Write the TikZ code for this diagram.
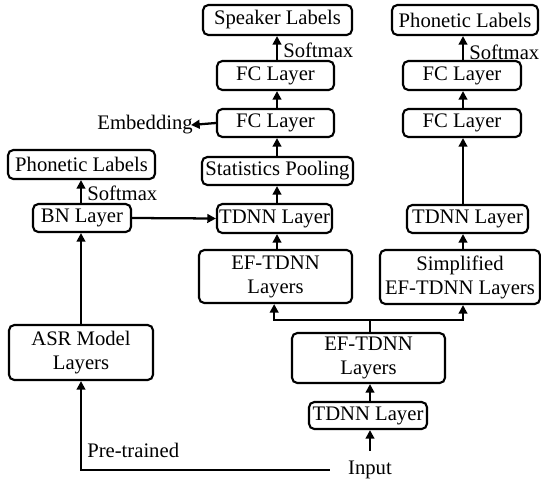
\documentclass[tikz,border=0pt]{standalone}
\usepackage{fontspec}
\setmainfont{Liberation Serif}
\usetikzlibrary{arrows.meta,calc}
\begin{document}
\begin{tikzpicture}[x=0.75pt,y=-0.75pt,
  font=\fontsize{15.5}{18}\selectfont,
  blk/.style={draw,line width=1.6pt,rounded corners=4pt,inner sep=0pt,align=center},
  arr/.style={line width=1.7pt,-{Triangle[length=6.5pt,width=6.5pt]}},
  ln/.style={line width=1.7pt},
  lbl/.style={inner sep=0pt}]
\useasboundingbox (0,0) rectangle (541,481);
\coordinate (colL) at (81,0);
\coordinate (colM) at (277,0);
\coordinate (colR) at (463,0);
\coordinate (colB) at (370,0);
% middle column
\node[blk,minimum width=111.75pt,minimum height=22.5pt] (spk) at (277.5,20) {Speaker Labels};
\node[blk,minimum width=87.75pt,minimum height=21.75pt] (fc1) at (275.5,75.5) {FC Layer};
\node[blk,minimum width=87.75pt,minimum height=21pt] (fc2) at (275.5,123) {FC Layer};
\node[blk,minimum width=113.25pt,minimum height=21pt] (stat) at (277.5,171) {Statistics Pooling};
\node[blk,minimum width=86.25pt,minimum height=21.75pt] (tdnnM) at (274.5,218.5) {TDNN Layer};
\node[blk,minimum width=114.75pt,minimum height=39.75pt] (efM) at (275.5,276.5) {EF-TDNN\\Layers};
% left column
\node[blk,minimum width=110.25pt,minimum height=21.75pt] (phL) at (81.5,164.5) {Phonetic Labels};
\node[blk,minimum width=73.5pt,minimum height=21pt] (bn) at (82,218) {BN Layer};
\node[blk,minimum width=108pt,minimum height=41.25pt] (asr) at (81,352.5) {ASR Model\\Layers};
% right column
\node[blk,minimum width=109.5pt,minimum height=22.5pt] (phR) at (465,20) {Phonetic Labels};
\node[blk,minimum width=88.5pt,minimum height=21.75pt] (fcR1) at (462,75.5) {FC Layer};
\node[blk,minimum width=88.5pt,minimum height=21pt] (fcR2) at (462,123) {FC Layer};
\node[blk,minimum width=90.75pt,minimum height=21pt] (tdnnR) at (467.5,219) {TDNN Layer};
\node[blk,minimum width=120pt,minimum height=40.5pt] (sim) at (460,277) {Simplified\\EF-TDNN Layers};
% bottom column
\node[blk,minimum width=114.75pt,minimum height=37.5pt] (efL) at (368.5,358) {EF-TDNN\\Layers};
\node[blk,minimum width=88.5pt,minimum height=20.25pt] (tdnnL) at (368,415.5) {TDNN Layer};
\node[lbl] (input) at (370,470) {Input};
% labels
\node[lbl,anchor=east] (emb) at (193,125) {Embedding};
\node[lbl,anchor=west] (smL) at (87,193) {Softmax};
\node[lbl,anchor=west] (smM) at (283,50) {Softmax};
\node[lbl,anchor=west] (smR) at (469,52) {Softmax};
\node[lbl,anchor=west] (pre) at (87,450) {Pre-trained};
\coordinate (br) at (370,320);
% middle arrows
\draw[arr] (efM.north -| colM) -- (tdnnM.south -| colM);
\draw[arr] (tdnnM.north -| colM) -- (stat.south -| colM);
\draw[arr] (stat.north -| colM) -- (fc2.south -| colM);
\draw[arr] (fc2.north -| colM) -- (fc1.south -| colM);
\draw[arr] (fc1.north -| colM) -- (spk.south -| colM);
\draw[arr] (fc2.west) -- ([xshift=-1.5pt]emb.east);
% right arrows
\draw[arr] (sim.north -| colR) -- (tdnnR.south -| colR);
\draw[arr] (tdnnR.north -| colR) -- (fcR2.south -| colR);
\draw[arr] (fcR2.north -| colR) -- (fcR1.south -| colR);
\draw[arr] (fcR1.north -| colR) -- (phR.south -| colR);
% left arrows
\draw[arr] (asr.north -| colL) -- (bn.south -| colL);
\draw[arr] (bn.north -| colL) -- (phL.south -| colL);
\draw[arr] (bn.east) -- (tdnnM.west);
% bottom
\draw[arr, shorten <=7.5pt] (input.north -| colB) -- (tdnnL.south -| colB);
\draw[arr] (tdnnL.north -| colB) -- (efL.south -| colB);
\draw[ln] (efL.north -| br) -- (br);
\draw[arr] (br) -| ([xshift=-1pt]efM.south);
\draw[arr] (br) -| (sim.south -| colR);
\draw[arr, shorten <=13.5pt] (input.west) -| (asr.south -| colL);
\end{tikzpicture}
\end{document}
